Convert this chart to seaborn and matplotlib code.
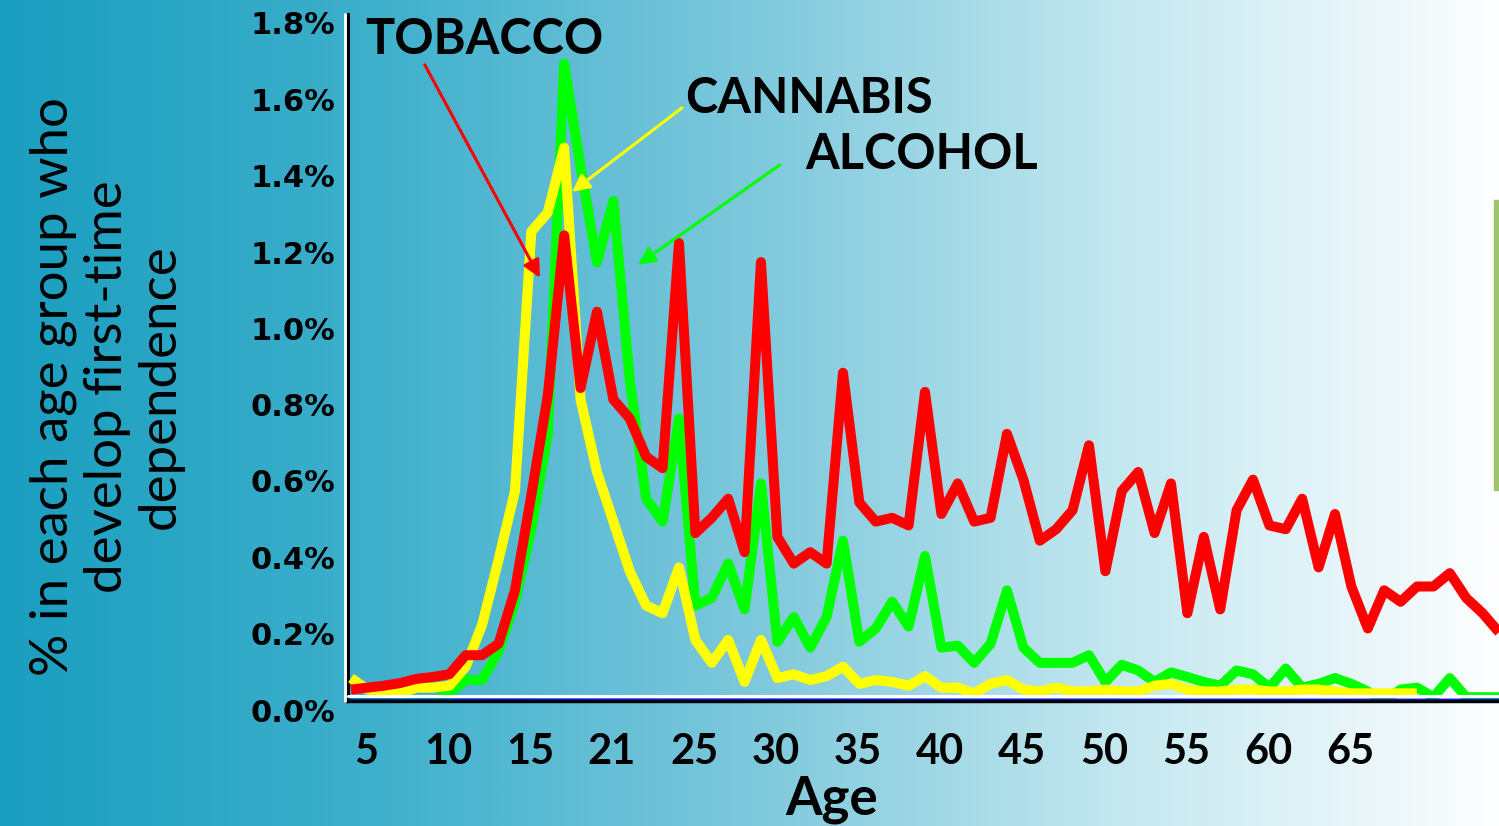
import numpy as np
import pandas as pd
import matplotlib
matplotlib.use("Agg")
import matplotlib.pyplot as plt
from matplotlib.colors import LinearSegmentedColormap
from matplotlib.transforms import ScaledTranslation
from matplotlib.patches import Rectangle
import seaborn as sns

# ---- data: % in each age group developing first-time dependence ----
ages_tobacco = list(range(5, 76))
tobacco = [0.03, 0.035, 0.04, 0.047, 0.058, 0.063, 0.07, 0.12, 0.12, 0.15,
           0.29, 0.54, 0.80, 1.22, 0.82, 1.02, 0.79, 0.74, 0.64, 0.61,
           1.20, 0.44, 0.48, 0.53, 0.39, 1.15, 0.43, 0.36, 0.39, 0.36,
           0.86, 0.52, 0.47, 0.48, 0.46, 0.81, 0.49, 0.57, 0.47, 0.48,
           0.70, 0.58, 0.42, 0.45, 0.50, 0.67, 0.34, 0.55, 0.60, 0.44,
           0.57, 0.23, 0.43, 0.24, 0.50, 0.58, 0.46, 0.45, 0.53, 0.35,
           0.49, 0.30, 0.19, 0.29, 0.26, 0.30, 0.30, 0.335, 0.27, 0.23, 0.18]

ages_cannabis = list(range(5, 71))
cannabis = [0.06, 0.03, 0.025, 0.02, 0.035, 0.035, 0.04, 0.09, 0.20, 0.37,
            0.55, 1.23, 1.28, 1.45, 0.79, 0.60, 0.47, 0.34, 0.25, 0.23,
            0.35, 0.16, 0.10, 0.16, 0.05, 0.16, 0.06, 0.07, 0.055, 0.065,
            0.09, 0.045, 0.055, 0.05, 0.04, 0.065, 0.035, 0.035, 0.02, 0.045,
            0.055, 0.03, 0.025, 0.035, 0.025, 0.025, 0.03, 0.025, 0.025, 0.04,
            0.045, 0.03, 0.025, 0.025, 0.03, 0.03, 0.025, 0.025, 0.03, 0.03,
            0.025, 0.02, 0.02, 0.02, 0.02, 0.02]

ages_alcohol = list(range(5, 76))
alcohol = [0.0, 0.0, 0.0, 0.0, 0.0, 0.0, 0.02, 0.055, 0.055, 0.13,
           0.26, 0.45, 0.70, 1.67, 1.40, 1.15, 1.31, 0.84, 0.53, 0.47,
           0.74, 0.25, 0.27, 0.36, 0.24, 0.57, 0.155, 0.22, 0.14, 0.22,
           0.42, 0.155, 0.19, 0.26, 0.195, 0.38, 0.14, 0.145, 0.10, 0.15,
           0.29, 0.14, 0.10, 0.10, 0.10, 0.12, 0.05, 0.095, 0.08, 0.05,
           0.075, 0.063, 0.05, 0.04, 0.08, 0.07, 0.035, 0.085, 0.035, 0.045,
           0.06, 0.045, 0.025, 0.0, 0.03, 0.035, 0.01, 0.06, 0.01, 0.01, 0.01]

substances = ["ALCOHOL", "CANNABIS", "TOBACCO"]
colors = ["#00ff00", "#ffff00", "#ff0000"]

x_ticks = [5, 10, 15, 20, 25, 30, 35, 40, 45, 50, 55, 60, 65]
x_tick_labels = ["5", "10", "15", "21", "25", "30", "35", "40", "45", "50", "55", "60", "65"]
y_ticks = [0.0, 0.2, 0.4, 0.6, 0.8, 1.0, 1.2, 1.4, 1.6, 1.8]
y_tick_labels = ["0.0%", "0.2%", "0.4%", "0.6%", "0.8%", "1.0%", "1.2%", "1.4%", "1.6%", "1.8%"]

df = pd.concat([
    pd.DataFrame({"age": ages_alcohol, "pct": alcohol, "substance": "ALCOHOL"}),
    pd.DataFrame({"age": ages_cannabis, "pct": cannabis, "substance": "CANNABIS"}),
    pd.DataFrame({"age": ages_tobacco, "pct": tobacco, "substance": "TOBACCO"}),
], ignore_index=True)

sns.set_style("white")
plt.rcParams["font.family"] = ["Lato", "DejaVu Sans"]

W, H = 1499, 826
fig = plt.figure(figsize=(W / 100, H / 100), dpi=100)

# horizontal teal-to-white backdrop
bg = fig.add_axes([0, 0, 1, 1], zorder=-10)
cmap = LinearSegmentedColormap.from_list(
    "backdrop",
    [(0.0, (26/255, 158/255, 192/255)),
     (0.25, (62/255, 176/255, 204/255)),
     (0.5, (125/255, 200/255, 220/255)),
     (0.75, (196/255, 232/255, 240/255)),
     (1.0, (253/255, 254/255, 255/255))])
bg.imshow(np.linspace(0, 1, 512)[None, :], aspect="auto", cmap=cmap,
          extent=[0, 1, 0, 1], interpolation="bilinear")
bg.set_xlim(0, 1)
bg.set_ylim(0, 1)
bg.axis("off")
fig.patches.append(Rectangle((1494 / W, 1 - 490 / H), 5 / W, 290 / H,
                             transform=fig.transFigure, color="#9cc46a", zorder=-5))

ax = fig.add_axes([348 / W, 1 - 701 / H, 1 - 348 / W, (701 - 14) / H])
ax.patch.set_alpha(0)

sns.lineplot(data=df, x="age", y="pct", hue="substance", hue_order=substances,
             palette=colors, linewidth=7.2, legend=False, ax=ax,
             solid_joinstyle="round", solid_capstyle="butt", zorder=3)

ax.set_xlim(4.82, 75.0)
ax.set_ylim(0, 1.8)

# axes frame: black spines with white inner rules
for side in ["top", "right"]:
    ax.spines[side].set_visible(False)
ax.spines["left"].set_color("black")
ax.spines["left"].set_linewidth(2.2)
ax.spines["bottom"].set_color("black")
ax.spines["bottom"].set_linewidth(3.2)
ax.spines["bottom"].set_zorder(5)
px = fig.dpi_scale_trans
ax.plot([0, 0], [0, 1], transform=ax.transAxes + ScaledTranslation(-3 / 100, 0, px),
        color="white", lw=2, clip_on=False, zorder=6)
ax.plot([0, 1], [0, 0], transform=ax.transAxes + ScaledTranslation(0, 5 / 100, px),
        color="white", lw=2.2, clip_on=False, zorder=6)
ax.plot([0, 1], [0, 0], transform=ax.transAxes + ScaledTranslation(0, 2.5 / 100, px),
        color="#1010e0", lw=1, clip_on=False, zorder=6)

ax.set_xticks(x_ticks)
ax.set_xticklabels(x_tick_labels, fontsize=30, fontweight="bold", color="black")
ax.set_yticks(y_ticks)
ax.set_yticklabels(y_tick_labels, fontsize=22, fontweight="bold", color="black",
                   family=["DejaVu Sans"])
ax.tick_params(axis="x", direction="out", length=5, width=2, color="black", pad=18)
ax.tick_params(axis="y", direction="out", length=6, width=2, color="white", pad=3)
for lab in ax.get_xticklabels():
    lab.set_transform(lab.get_transform() + ScaledTranslation(15 / 100, 0, px))
for lab in ax.get_yticklabels():
    lab.set_transform(lab.get_transform() + ScaledTranslation(0, -9 / 100, px))

ax.set_xlabel("Age", fontsize=38, fontweight="bold", color="black")
ax.xaxis.set_label_coords((832 - 348) / 1151, -(799 - 701) / 687)
ax.xaxis.label.set_va("center")
ax.set_ylabel("% in each age group who\ndevelop first-time\ndependence",
              fontsize=38, color="black", linespacing=1.17)
ax.yaxis.set_label_coords((107 - 348) / 1151, (701 - 387) / 687)
ax.yaxis.label.set_va("center")

# series call-outs with arrows
label_font = dict(fontsize=35, fontweight="bold", color="black", va="center", ha="left")
ax.text(5.85, 1.733, "TOBACCO", **label_font)
ax.text(25.37, 1.578, "CANNABIS", **label_font)
ax.text(32.68, 1.431, "ALCOHOL", **label_font)
arrow_kw = dict(arrowstyle="-|>", lw=2.2, mutation_scale=26, shrinkA=0, shrinkB=0)
ax.annotate("", xy=(16.52, 1.109), xytext=(9.5, 1.667),
            arrowprops=dict(color="#ff0000", **arrow_kw), zorder=7)
ax.annotate("", xy=(18.48, 1.334), xytext=(25.18, 1.554),
            arrowprops=dict(color="#ffff00", **arrow_kw), zorder=7)
ax.annotate("", xy=(22.5, 1.143), xytext=(31.16, 1.405),
            arrowprops=dict(color="#00ff00", **arrow_kw), zorder=7)

fig.savefig("out.png", dpi=100)
